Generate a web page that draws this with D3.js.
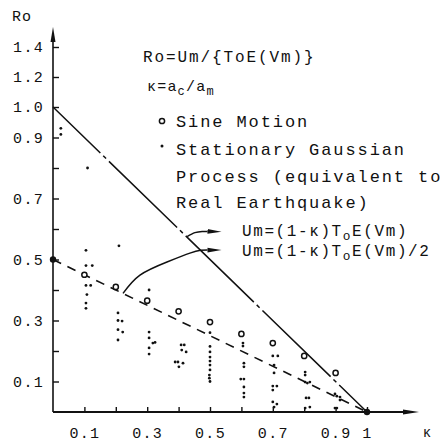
<!DOCTYPE html>
<html>
<head>
<meta charset="utf-8">
<script src="https://cdn.jsdelivr.net/npm/d3@7"></script>
<style>
  html, body { margin: 0; padding: 0; background: #fff; }
  svg { display: block; }
  text { font-family: "Liberation Mono", "DejaVu Sans Mono", monospace; fill: #111; }
</style>
</head>
<body>
<svg id="chart" width="445" height="442"></svg>
<script>
// ---------- data ----------
const xTickValues = [0.1,0.2,0.3,0.4,0.5,0.6,0.7,0.8,0.9,1.0];
const xTickLabels = {0.1:"0.1",0.3:"0.3",0.5:"0.5",0.7:"0.7",0.9:"0.9",1:"1"};
const yTickValues = [0.1,0.2,0.3,0.4,0.5,0.6,0.7,0.8,0.9,1.0,1.2,1.4];
const yTickLabels = {0.1:"0.1",0.3:"0.3",0.5:"0.5",0.7:"0.7",0.9:"0.9",1:"1.0",1.2:"1.2",1.4:"1.4"};

// Sine motion (open circles)
const sineK  = [0.1, 0.2, 0.3, 0.4, 0.5, 0.6, 0.7, 0.8, 0.9];
const sineRo = [0.45, 0.41, 0.365, 0.33, 0.295, 0.256, 0.226, 0.184, 0.128];

// Stationary Gaussian process (small dots)
const gaussK = [
  0.025, 0.025,
  0.11, 0.105, 0.105, 0.125, 0.105, 0.12, 0.108, 0.105, 0.105,
  0.21, 0.207, 0.207, 0.22, 0.207, 0.222, 0.207,
  0.306, 0.306, 0.306, 0.318, 0.325, 0.306, 0.306,
  0.408, 0.418, 0.41, 0.424, 0.389, 0.398, 0.414, 0.401,
  0.5, 0.5, 0.5, 0.5, 0.5, 0.5, 0.5, 0.498, 0.498, 0.5,
  0.605, 0.605, 0.608, 0.608, 0.598, 0.608, 0.608, 0.608, 0.608,
  0.7, 0.716, 0.704, 0.704, 0.7, 0.713, 0.7, 0.7, 0.713, 0.704,
  0.803, 0.803, 0.803, 0.81, 0.818, 0.806, 0.815, 0.803, 0.818,
  0.898, 0.904, 0.914, 0.914, 0.898, 0.904
];
const gaussRo = [
  0.93, 0.91,
  0.80, 0.53, 0.48, 0.48, 0.415, 0.415, 0.385, 0.357, 0.34,
  0.545, 0.325, 0.30, 0.298, 0.27, 0.262, 0.236,
  0.40, 0.262, 0.243, 0.226, 0.228, 0.21, 0.19,
  0.22, 0.22, 0.203, 0.197, 0.164, 0.164, 0.16, 0.148,
  0.26, 0.215, 0.197, 0.18, 0.167, 0.154, 0.138, 0.121, 0.111, 0.10,
  0.226, 0.216, 0.16, 0.148, 0.108, 0.108, 0.082, 0.062, 0.049,
  0.184, 0.184, 0.154, 0.128, 0.085, 0.085, 0.072, 0.033, 0.026, 0.016,
  0.131, 0.121, 0.098, 0.095, 0.098, 0.046, 0.046, 0.013, 0.016,
  0.059, 0.052, 0.049, 0.039, 0.013, 0.013
];

// theoretical lines
const lineFullK  = [0, 1];
const lineFullRo = [1, 0];
const lineHalfK  = [0, 1];
const lineHalfRo = [0.5, 0];

// annotation arrow paths (data units)
const arrowUpperK  = [0.427, 0.452, 0.475, 0.492];
const arrowUpperRo = [0.575, 0.588, 0.592, 0.592];
const arrowLowerK  = [0.223, 0.277, 0.363, 0.436, 0.47, 0.492];
const arrowLowerRo = [0.389, 0.449, 0.492, 0.521, 0.53, 0.531];

// ---------- scales ----------
const svg = d3.select("#chart");
const x = d3.scaleLinear().domain([0, 1]).range([53, 367]);
const y = d3.scaleLinear().domain([0, 1, 1.4]).range([412, 107, 47]);

const defs = svg.append("defs");
defs.append("marker").attr("id","ah").attr("markerUnits","userSpaceOnUse")
  .attr("markerWidth",16).attr("markerHeight",10).attr("refX",0).attr("refY",5)
  .attr("orient","auto")
  .append("path").attr("d","M0,2.6 L14,5 L0,7.4 Z").attr("fill","#111");

// ---------- axes ----------
const xAxis = d3.axisBottom(x).tickValues(xTickValues).tickSize(-5).tickPadding(15)
  .tickFormat(d => xTickLabels[+d.toFixed(1)] || "");
const gx = svg.append("g").attr("transform","translate(0,412)").call(xAxis);
gx.select(".domain").remove();
gx.selectAll(".tick line").attr("stroke","#111").attr("stroke-width",1.4);
gx.selectAll(".tick text").attr("font-size",15).attr("letter-spacing","1.3px")
  .style("font-family","'Liberation Mono', monospace").attr("fill","#111");

const yAxis = d3.axisLeft(y).tickValues(yTickValues).tickSize(-6).tickPadding(9)
  .tickFormat(d => yTickLabels[+d.toFixed(1)] || "");
const gy = svg.append("g").attr("transform","translate(53,0)").call(yAxis);
gy.select(".domain").remove();
gy.selectAll(".tick line").attr("stroke","#111").attr("stroke-width",1.4);
gy.selectAll(".tick text").attr("font-size",15).attr("letter-spacing","1.3px")
  .style("font-family","'Liberation Mono', monospace").attr("fill","#111");

// axis lines with arrows
svg.append("line").attr("x1",x(0)).attr("y1",y(0)).attr("x2",x(0)).attr("y2",40)
  .attr("stroke","#111").attr("stroke-width",1.6);
svg.append("path").attr("d",`M${x(0)},27 L${x(0)-2.5},42 L${x(0)+2.5},42 Z`).attr("fill","#111");
svg.append("line").attr("x1",x(0)).attr("y1",y(0)).attr("x2",405).attr("y2",y(0))
  .attr("stroke","#111").attr("stroke-width",2);
svg.append("path").attr("d",`M419,${y(0)} L403,${y(0)-2.5} L403,${y(0)+2.5} Z`).attr("fill","#111");

svg.append("text").attr("x",12).attr("y",21).attr("font-size",15).attr("letter-spacing","1px").text("Ro");
svg.append("text").attr("x",427).attr("y",437).attr("text-anchor","middle").attr("font-size",14).text("κ");

// ---------- theoretical lines ----------
const lineGen = d3.line().x(d => x(d[0])).y(d => y(d[1]));
svg.append("path").datum(d3.zip(lineFullK, lineFullRo)).attr("d", lineGen)
  .attr("fill","none").attr("stroke","#111").attr("stroke-width",1.5)
  .attr("stroke-dasharray","95,4,4,4").attr("stroke-dashoffset",29);
svg.append("path").datum(d3.zip(lineHalfK, lineHalfRo)).attr("d", lineGen)
  .attr("fill","none").attr("stroke","#111").attr("stroke-width",1.6)
  .attr("stroke-dasharray","9,7");

// endpoint dots
svg.append("circle").attr("cx",x(lineHalfK[0])).attr("cy",y(lineHalfRo[0])).attr("r",3.2).attr("fill","#111");
svg.append("circle").attr("cx",x(lineFullK[1])).attr("cy",y(lineFullRo[1])).attr("r",3.2).attr("fill","#111");

// ---------- data marks ----------
svg.append("g").selectAll("circle").data(d3.zip(gaussK, gaussRo)).join("circle")
  .attr("cx", d => x(d[0])).attr("cy", d => y(d[1])).attr("r",1.4).attr("fill","#111");

svg.append("g").selectAll("circle").data(d3.zip(sineK, sineRo)).join("circle")
  .attr("cx", d => x(d[0])).attr("cy", d => y(d[1])).attr("r",2.6)
  .attr("fill","#fff").attr("stroke","#111").attr("stroke-width",1.5);

// ---------- annotations ----------
const curveGen = d3.line().x(d => x(d[0])).y(d => y(d[1])).curve(d3.curveNatural);
svg.append("path").datum(d3.zip(arrowUpperK, arrowUpperRo)).attr("d", curveGen)
  .attr("fill","none").attr("stroke","#111").attr("stroke-width",1.5).attr("marker-end","url(#ah)");
svg.append("path").datum(d3.zip(arrowLowerK, arrowLowerRo)).attr("d", curveGen)
  .attr("fill","none").attr("stroke","#111").attr("stroke-width",1.5).attr("marker-end","url(#ah)");

function richText(xp, yp, parts, size, ls) {
  const t = svg.append("text").attr("x", xp).attr("y", yp).attr("font-size", size)
    .attr("letter-spacing", ls + "px");
  parts.forEach(p => {
    const ts = t.append("tspan").text(p.t);
    if (p.sub) ts.attr("font-size", size * 0.8).attr("dy", 4);
    if (p.back) ts.attr("dy", -4);
  });
  return t;
}

richText(143, 62, [{t:"Ro=Um/{ToE(Vm)}"}], 16, 1.9);
richText(147, 91, [{t:"κ=a"},{t:"c",sub:true},{t:"/a",back:true},{t:"m",sub:true}], 15, 1.2);

// legend
svg.append("circle").attr("cx",162).attr("cy",121).attr("r",2.6).attr("fill","#fff")
  .attr("stroke","#111").attr("stroke-width",1.5);
svg.append("circle").attr("cx",162).attr("cy",146).attr("r",1.5).attr("fill","#111");
const legendLines = ["Sine Motion","Stationary Gaussian","Process (equivalent to","Real Earthquake)"];
const legendY = [127, 155, 182, 208];
legendLines.forEach((s,i) => richText(176, legendY[i], [{t:s}], 17, 1.9));

richText(242, 236, [{t:"Um=(1-κ)T"},{t:"o",sub:true},{t:"E(Vm)",back:true}], 16, 1.6);
richText(242, 256, [{t:"Um=(1-κ)T"},{t:"o",sub:true},{t:"E(Vm)/2",back:true}], 16, 1.6);
</script>
</body>
</html>
